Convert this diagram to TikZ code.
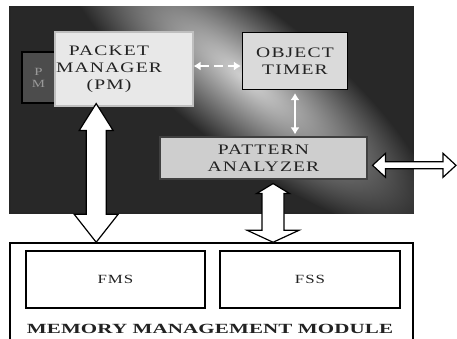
\documentclass[tikz,border=0pt]{standalone}
\usepackage{fontspec}
\setmainfont{Liberation Serif}
\newfontfamily\boxfont[FakeStretch=1.35,LetterSpace=8]{Liberation Serif}
\newfontfamily\mmmfont[FakeStretch=1.5,LetterSpace=1]{Liberation Serif}
\usetikzlibrary{calc,arrows.meta}
\definecolor{panelgray}{HTML}{282828}
\definecolor{streakgray}{HTML}{D2D2D2}
\definecolor{pmfill}{HTML}{E8E8E8}
\definecolor{otfill}{HTML}{DADADA}
\definecolor{pafill}{HTML}{CECECE}
\definecolor{txtgray}{HTML}{222222}
\newcommand\vdblarrow[7]{%
  \draw[blockarrow] (#1) -- ($(#1)+(#3,#4)$) -- ($(#1)+(#5,#4)$) -- ($(#2)+(#5,-#7)$) -- ($(#2)+(#6,-#7)$) -- (#2) -- ($(#2)+(-#6,-#7)$) -- ($(#2)+(-#5,-#7)$) -- ($(#1)+(-#5,#4)$) -- ($(#1)+(-#3,#4)$) -- cycle;}
\newcommand\hdblarrow[5]{%
  \draw[blockarrow] (#1) -- ($(#1)+(#4,-#3)$) -- ($(#1)+(#4,-#5)$) -- ($(#2)+(-#4,-#5)$) -- ($(#2)+(-#4,-#3)$) -- (#2) -- ($(#2)+(-#4,#3)$) -- ($(#2)+(-#4,#5)$) -- ($(#1)+(#4,#5)$) -- ($(#1)+(#4,#3)$) -- cycle;}
\begin{document}
\begin{tikzpicture}[x=1pt,y=-1pt,
  box/.style={rectangle, inner sep=0pt, line width=1.1pt},
  lbl/.style={font=\boxfont\fontsize{14.5}{17}\selectfont, text=txtgray, align=center},
  small/.style={font=\boxfont\fontsize{12.5}{14}\selectfont, text=txtgray, align=center},
  blockarrow/.style={draw=black, fill=white, line width=1.2pt, line join=miter},
  thinarrow/.style={draw=white, line width=2.4pt, {Latex[length=7pt,width=9pt]}-{Latex[length=7pt,width=9pt]}},
]
\path[use as bounding box] (0,0) rectangle (457,338);
\fill[white] (0,0) rectangle (457,338);
\clip (0,0) rectangle (457,338);

% dark panel
\node[box, fill=panelgray, draw=black!85, minimum width=403pt, minimum height=206pt] (panel) at (211.5,110) {};
\begin{scope}
  \clip (panel.north west) rectangle (panel.south east);
  \begin{scope}[transform canvas={shift={(245,78)}, rotate=-38}]
    \shade[inner color=streakgray, outer color=panelgray] (0,0) ellipse [x radius=230, y radius=70];
  \end{scope}
\end{scope}

% boxes inside panel
\node[box, fill=black!70, draw=black, minimum width=33pt, minimum height=51pt,
      font=\boxfont\fontsize{11}{12}\selectfont, text=black!40, align=center] (pmtab) at (38.5,77.5) {P\\M};
\node[box, fill=pmfill, draw=gray!50, minimum width=138pt, minimum height=74pt] (pm) at (124,69) {};
\node[lbl] (pmlabel) at (109,69) {PACKET\\MANAGER\\(PM)};
\node[box, fill=otfill, draw=black, minimum width=105pt, minimum height=57pt, lbl] (ot) at (295,61) {OBJECT\\TIMER};
\node[box, fill=pafill, draw=black!75, minimum width=207pt, minimum height=42pt, lbl] (pa) at (263.5,158) {PATTERN\\ANALYZER};

% memory management module
\node[box, draw=black, line width=1.5pt, fill=white, minimum width=403pt, minimum height=110pt] (mmm) at (211.5,298) {};
\node[box, draw=black, fill=white, minimum width=179pt, minimum height=57pt, small] (fms) at (115.5,279.5) {FMS};
\node[box, draw=black, fill=white, minimum width=180pt, minimum height=57pt, small] (fss) at (310,279.5) {FSS};
\node[font=\mmmfont\bfseries\fontsize{14}{16}\selectfont, text=txtgray, inner sep=0pt] (mmmlabel) at (210,329) {MEMORY MANAGEMENT MODULE};

% thin connectors
\coordinate (a5r) at ($(ot.west)+(-1,5)$);
\coordinate (a5l) at (a5r -| pm.east);
\draw[thinarrow, dash pattern=on 9pt off 5pt] (a5l) -- (a5r);
\draw[thinarrow] ($(ot.south)+(0,3)$) -- ($(ot.south |- pa.north)+(0,-2)$);

% block arrows
\coordinate (a1t) at ($(pm.south west)!0.3!(pm.south east)+(0,-3)$);
\coordinate (a1b) at (a1t |- mmm.north);
\vdblarrow{a1t}{a1b}{17}{27}{10}{22}{28}
\coordinate (a2t) at ($(pa.south west)!0.546!(pa.south east)+(0,4)$);
\coordinate (a2b) at (a2t |- mmm.north);
\vdblarrow{a2t}{a2b}{16.5}{10}{11}{26}{12}
\coordinate (a3l) at ($(pa.south east)!0.33!(pa.north east)+(5,0)$);
\coordinate (edge) at (456,0);
\coordinate (a3r) at (a3l -| edge);
\hdblarrow{a3l}{a3r}{12}{13}{3.5}
\end{tikzpicture}
\end{document}
